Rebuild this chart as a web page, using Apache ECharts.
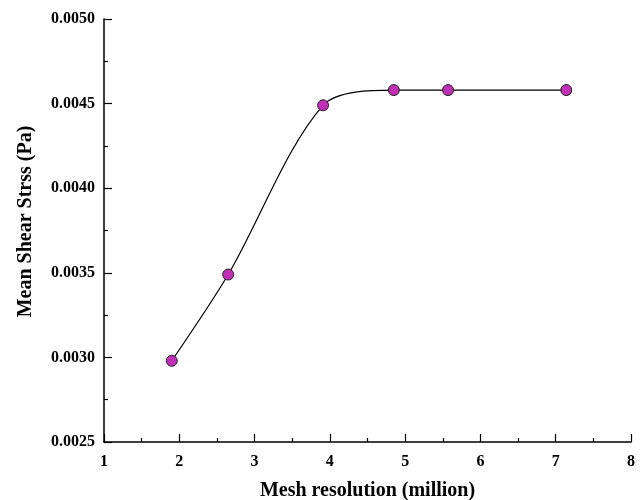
<!DOCTYPE html>
<html>
<head>
<meta charset="utf-8">
<script src="https://cdn.jsdelivr.net/npm/echarts@6/dist/echarts.min.js"></script>
<style>
html,body{margin:0;padding:0;background:#fff;}
#chart{width:642px;height:500px;}
</style>
</head>
<body>
<div id="chart"></div>
<script>
// mesh resolution (million cells) vs mean shear stress (Pa)
var meshRes = [1.90, 2.65, 3.91, 4.85, 5.57, 7.14];
var shearStress = [0.00298, 0.00349, 0.00449, 0.00458, 0.00458, 0.00458];
var xTicks = [1, 8, 1];
var yTicks = [0.0025, 0.0050, 0.0005];

var myChart = echarts.init(document.getElementById('chart'));
var font = '"Liberation Serif", "Times New Roman", serif';

var pts = [];
for (var i = 0; i < meshRes.length; i++) {
	pts.push([meshRes[i], shearStress[i]]);
}

var option = {
	animation: false,
	backgroundColor: '#fff',
	grid: {left: 104, right: 11, top: 19, bottom: 58, outerBoundsMode: 'none'},
	xAxis: {
		type: 'value',
		min: xTicks[0], max: xTicks[1], interval: xTicks[2],
		name: 'Mesh resolution (million)',
		nameLocation: 'middle',
		nameGap: 39,
		nameTextStyle: {fontFamily: font, fontWeight: 'bold', fontSize: 20, color: '#000'},
		axisLine: {lineStyle: {color: '#000', width: 1.5}},
		axisTick: {inside: true, length: 8, lineStyle: {color: '#000', width: 1.2}},
		minorTick: {show: true, splitNumber: 2, length: 4, lineStyle: {color: '#000', width: 1.2}},
		axisLabel: {fontFamily: font, fontWeight: 'bold', fontSize: 16, color: '#000', margin: 12},
		splitLine: {show: false}
	},
	yAxis: {
		type: 'value',
		min: yTicks[0], max: yTicks[1], interval: yTicks[2],
		name: 'Mean Shear Strss (Pa)',
		nameLocation: 'middle',
		nameGap: 68,
		nameTextStyle: {fontFamily: font, fontWeight: 'bold', fontSize: 20, color: '#000', padding: [0, 0, 0, 18]},
		axisLine: {show: true, lineStyle: {color: '#000', width: 1.5}},
		axisTick: {show: true, inside: true, length: 8, lineStyle: {color: '#000', width: 1.2}},
		minorTick: {show: true, splitNumber: 2, length: 4, lineStyle: {color: '#000', width: 1.2}},
		axisLabel: {
			fontFamily: font, fontWeight: 'bold', fontSize: 16, color: '#000', margin: 9,
			formatter: function(v){ return v.toFixed(4); }
		},
		splitLine: {show: false}
	},
	series: [
		{
			type: 'line',
			data: pts,
			smooth: 0.3,
			symbol: 'circle',
			symbolSize: 11,
			lineStyle: {color: '#000', width: 1.2},
			itemStyle: {color: '#C02FB5', borderColor: '#222', borderWidth: 1}
		}
	]
};
myChart.setOption(option);
</script>
</body>
</html>
